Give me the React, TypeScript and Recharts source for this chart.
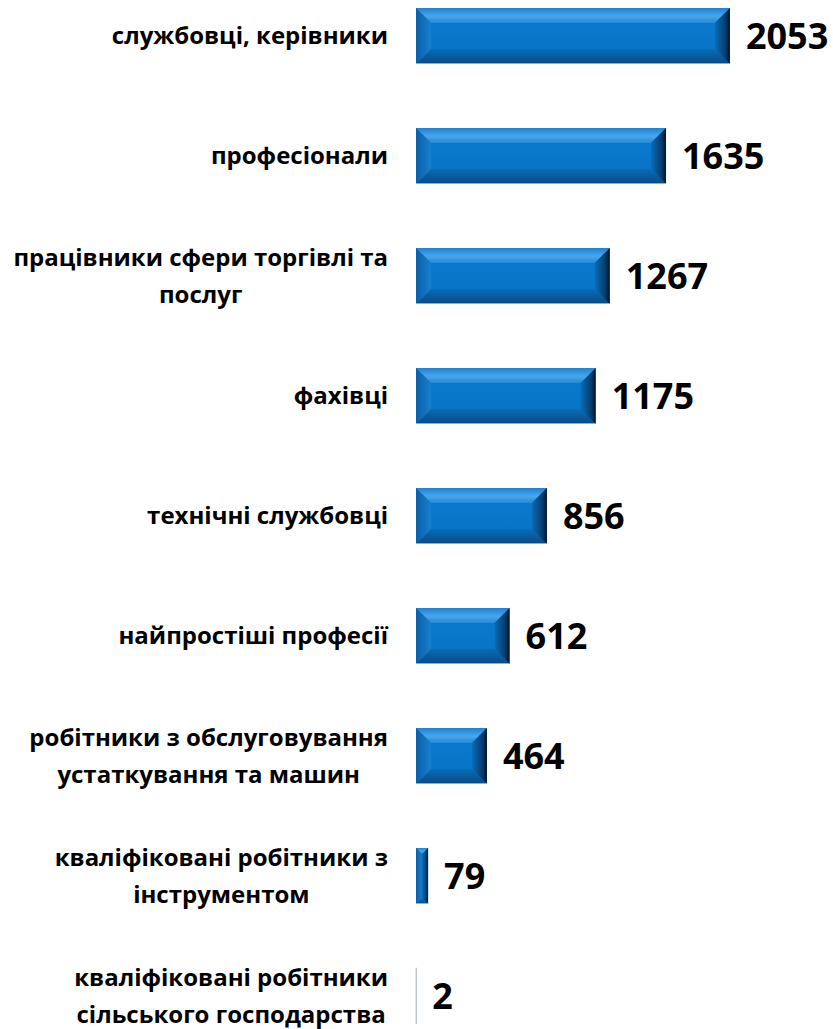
import React from 'react';
import { BarChart, Bar, XAxis, YAxis, LabelList } from 'recharts';

const categories = [
  'службовці, керівники',
  'професіонали',
  'працівники сфери торгівлі та\nпослуг',
  'фахівці',
  'технічні службовці',
  'найпростіші професії',
  'робітники з обслуговування\nустаткування та машин',
  'кваліфіковані робітники з\nінструментом',
  'кваліфіковані робітники\nсільського господарства',
];
const values = [2053, 1635, 1267, 1175, 856, 612, 464, 79, 2];

const data = categories.map((c, i) => ({ name: c, value: values[i] }));

const FONT = '"Open Sans", "Noto Sans", sans-serif';
const LABEL_SIZE = 24;
const LINE_GAP = 37;

let ctx: CanvasRenderingContext2D | null = null;
function measure(t: string) {
  if (!ctx) {
    const c = document.createElement('canvas');
    ctx = c.getContext('2d');
  }
  if (!ctx) return t.length * 13;
  ctx.font = `bold ${LABEL_SIZE}px "Open Sans"`;
  return ctx.measureText(t).width;
}

const CategoryTick = (props: any) => {
  const { x, y, payload } = props;
  const lines: string[] = String(payload.value).split('\n');
  const maxW = Math.max(...lines.map(measure));
  const cx = x - maxW / 2;
  const n = lines.length;
  return (
    <g>
      {lines.map((l, i) => (
        <text
          key={i}
          x={cx}
          y={y + (i - (n - 1) / 2) * LINE_GAP + 8}
          textAnchor="middle"
          fontFamily={FONT}
          fontWeight="bold"
          fontSize={LABEL_SIZE}
          fill="#000"
        >
          {l}
        </text>
      ))}
    </g>
  );
};

const BevelBar = (props: any) => {
  const { x, y, width, height } = props;
  if (width == null || height == null) return null;
  if (width < 2) {
    return <rect x={x} y={y} width={Math.max(width, 0.5)} height={height} fill="#b4bcc4" stroke="#a9b1b9" strokeWidth={0.6} />;
  }
  const b = Math.min(15, width / 2, height / 2);
  const x2 = x + width;
  const y2 = y + height;
  return (
    <g>
      <rect x={x} y={y} width={width} height={height} fill="url(#gCenter)" />
      <polygon points={`${x},${y} ${x2},${y} ${x2 - b},${y + b} ${x + b},${y + b}`} fill="url(#gTop)" />
      <polygon points={`${x},${y2} ${x2},${y2} ${x2 - b},${y2 - b} ${x + b},${y2 - b}`} fill="url(#gBottom)" />
      <polygon points={`${x},${y} ${x + b},${y + b} ${x + b},${y2 - b} ${x},${y2}`} fill="url(#gLeft)" />
      <polygon points={`${x2},${y} ${x2 - b},${y + b} ${x2 - b},${y2 - b} ${x2},${y2}`} fill="url(#gRight)" />
      <line x1={x} y1={y2 - 0.5} x2={x2} y2={y2 - 0.5} stroke="#7fb2dc" strokeWidth={1} />
    </g>
  );
};

export default function App() {
  return (
    <div style={{ position: 'absolute', left: 0, top: -24, width: 833, height: 1080 }}>
      <BarChart
        width={833}
        height={1080}
        data={data}
        layout="vertical"
        margin={{ top: 0, right: 50, left: 0, bottom: 0 }}
        barSize={56}
      >
        <defs>
          <linearGradient id="gCenter" x1="0" y1="0" x2="0" y2="1">
            <stop offset="0" stopColor="#0b7bd0" />
            <stop offset="1" stopColor="#0872c3" />
          </linearGradient>
          <linearGradient id="gTop" x1="0" y1="0" x2="0" y2="1">
            <stop offset="0" stopColor="#1d82d2" />
            <stop offset="0.55" stopColor="#4aa6ea" />
            <stop offset="1" stopColor="#2189d8" />
          </linearGradient>
          <linearGradient id="gBottom" x1="0" y1="0" x2="0" y2="1">
            <stop offset="0" stopColor="#0a6cb6" />
            <stop offset="1" stopColor="#0a4a82" />
          </linearGradient>
          <linearGradient id="gLeft" x1="0" y1="0" x2="1" y2="0">
            <stop offset="0" stopColor="#0a5ea6" />
            <stop offset="1" stopColor="#167fcf" />
          </linearGradient>
          <linearGradient id="gRight" x1="0" y1="0" x2="1" y2="0">
            <stop offset="0" stopColor="#0a6cb8" />
            <stop offset="0.7" stopColor="#083c6c" />
            <stop offset="1" stopColor="#041426" />
          </linearGradient>
        </defs>
        <XAxis type="number" hide domain={[0, 2400]} />
        <YAxis
          type="category"
          dataKey="name"
          width={416}
          axisLine={false}
          tickLine={false}
          tickMargin={22}
          interval={0}
          tick={<CategoryTick />}
        />
        <Bar dataKey="value" isAnimationActive={false} shape={<BevelBar />}>
          <LabelList
            dataKey="value"
            position="right"
            offset={16}
            fill="#000"
            fontFamily={FONT}
            fontWeight="bold"
            fontSize={36}
          />
        </Bar>
      </BarChart>
    </div>
  );
}
